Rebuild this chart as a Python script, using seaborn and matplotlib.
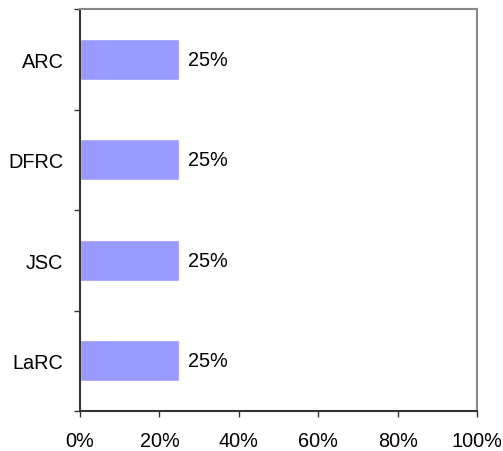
import matplotlib
matplotlib.use("Agg")
import matplotlib.pyplot as plt
import seaborn as sns
import pandas as pd
from matplotlib.ticker import FixedLocator, FuncFormatter

centers = ["ARC", "DFRC", "JSC", "LaRC"]
shares = [25, 25, 25, 25]
x_ticks = [0, 20, 40, 60, 80, 100]

sns.set_theme(style="white")
plt.rcParams["font.family"] = ["Liberation Sans", "DejaVu Sans"]

FS = 14.3

df = pd.DataFrame({"center": centers, "share": shares})

fig = plt.figure(figsize=(5.03, 4.52), dpi=100)
ax = fig.add_axes([80 / 503, 40 / 452, 397 / 503, 402 / 452])

sns.barplot(data=df, x="share", y="center", orient="h", color="#9999FF",
            saturation=1, width=0.41, ax=ax)

ax.set_xlim(0, 100)
ax.set_ylim(len(centers) - 0.5, -0.5)
ax.set_xlabel("")
ax.set_ylabel("")

ax.xaxis.set_major_locator(FixedLocator(x_ticks))
ax.xaxis.set_major_formatter(FuncFormatter(lambda v, p: f"{v:.0f}%"))

# category boundary tick marks on the value axis
ax.yaxis.set_minor_locator(FixedLocator([i - 0.5 for i in range(len(centers) + 1)]))
ax.tick_params(axis="y", which="major", length=0, pad=12, labelsize=FS, colors="black")
ax.tick_params(axis="y", which="minor", length=4.5, width=1, color="#333333", direction="out", left=True)
ax.tick_params(axis="x", which="major", length=4.5, width=1, color="#333333", direction="out",
               bottom=True, pad=10, labelsize=FS, labelcolor="black")

for side in ["left", "bottom"]:
    ax.spines[side].set_color("#333333")
    ax.spines[side].set_linewidth(1.5)
for side in ["top", "right"]:
    ax.spines[side].set_color("#888888")
    ax.spines[side].set_linewidth(1.5)
    ax.spines[side].set_visible(True)

for cont in ax.containers:
    ax.bar_label(cont, labels=[f"{v:.0f}%" for v in shares], padding=6.5,
                 fontsize=FS, color="black")

fig.savefig("out.png", dpi=100, facecolor="white")
